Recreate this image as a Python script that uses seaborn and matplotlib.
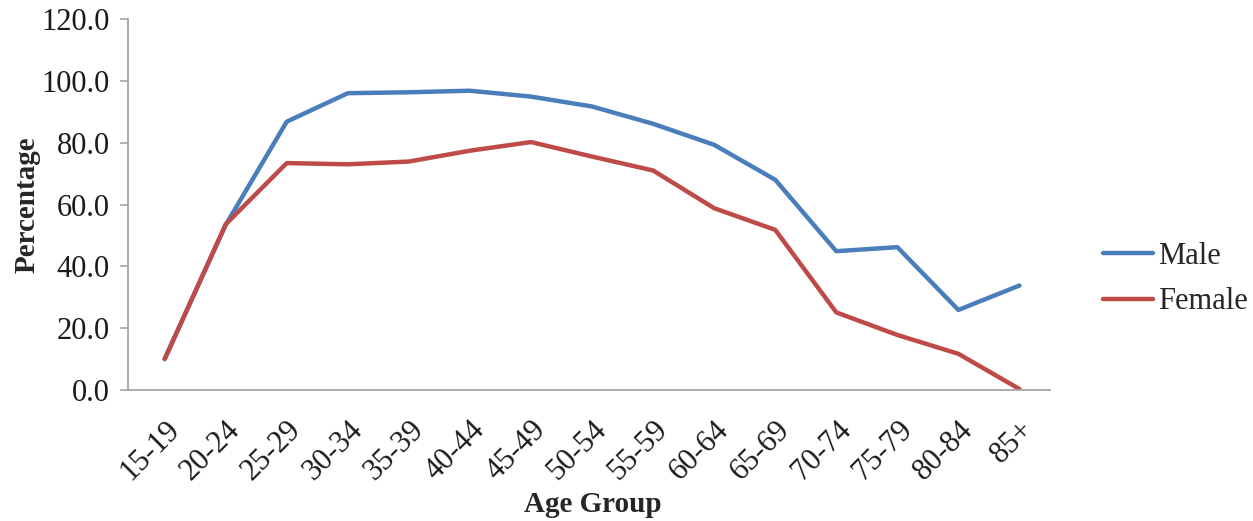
import numpy as np
import pandas as pd
import matplotlib
matplotlib.use("Agg")
import matplotlib.pyplot as plt
import seaborn as sns

age_groups = ["15-19", "20-24", "25-29", "30-34", "35-39", "40-44", "45-49",
              "50-54", "55-59", "60-64", "65-69", "70-74", "75-79", "80-84", "85+"]
male = [10.0, 53.4, 86.8, 96.0, 96.3, 96.8, 94.9, 91.7, 86.1, 79.3, 68.0, 44.9, 46.2, 25.9, 33.8]
female = [10.0, 53.6, 73.4, 73.0, 73.9, 77.4, 80.2, 75.5, 71.0, 58.8, 51.8, 25.1, 17.8, 11.7, 0.3]
series_names = ["Male", "Female"]
colors = ["#4A7EBB", "#BE4B48"]

sns.set_theme(style="white")
plt.rcParams['font.family'] = ['Liberation Serif', 'DejaVu Serif']

pos = np.arange(len(age_groups))
df = pd.DataFrame({
    "pos": np.concatenate([pos, pos]),
    "value": male + female,
    "Sex": [series_names[0]] * len(pos) + [series_names[1]] * len(pos),
})

fig = plt.figure(figsize=(12.53, 5.21), dpi=100)
ax = fig.add_axes([128 / 1253, 1 - 390 / 521, (1050 - 128) / 1253, (390 - 19) / 521])

sns.lineplot(data=df, x="pos", y="value", hue="Sex", palette=colors,
             linewidth=3.2, ax=ax, legend=True, solid_capstyle="round")

ax.set_xlim(-0.6, len(age_groups) - 0.5)
ax.set_ylim(0, 120)
ax.set_yticks(np.arange(0, 121, 20))
ax.set_yticklabels([f"{v:.1f}" for v in np.arange(0, 121, 20)], fontsize=22, color="#1a1a1a")
ax.set_xticks(pos)
ax.set_xticklabels(age_groups, rotation=45, ha="right", rotation_mode="anchor",
                   fontsize=22, color="#1a1a1a")

for s in ["top", "right"]:
    ax.spines[s].set_visible(False)
for s in ["left", "bottom"]:
    ax.spines[s].set_color("#A6A6A6")
    ax.spines[s].set_linewidth(1.3)

ax.tick_params(axis="y", which="both", left=True, length=6, width=1.2, color="#A6A6A6",
               direction="out", pad=7)
ax.tick_params(axis="x", which="both", bottom=False, length=0, pad=18)

ax.set_xlabel("Age Group", fontsize=21, fontweight="bold")
ax.set_ylabel("Percentage", fontsize=21, fontweight="bold")
ax.xaxis.set_label_coords(593 / 1253, 505 / 521 * 0 + (521 - 505) / 521, transform=fig.transFigure)
ax.xaxis.label.set_va("center")
ax.yaxis.set_label_coords(27 / 1253, (521 - 205) / 521, transform=fig.transFigure)
ax.yaxis.label.set_va("center")
ax.grid(False)

handles, labels = ax.get_legend_handles_labels()
ax.legend(handles, labels, loc="center left", bbox_to_anchor=(1103 / 1253, (521 - 279) / 521),
          bbox_transform=fig.transFigure, frameon=False, fontsize=22,
          handlelength=1.65, handletextpad=0.15, labelspacing=0.55, borderaxespad=0,
          borderpad=0)

fig.savefig("out.png", dpi=100)
